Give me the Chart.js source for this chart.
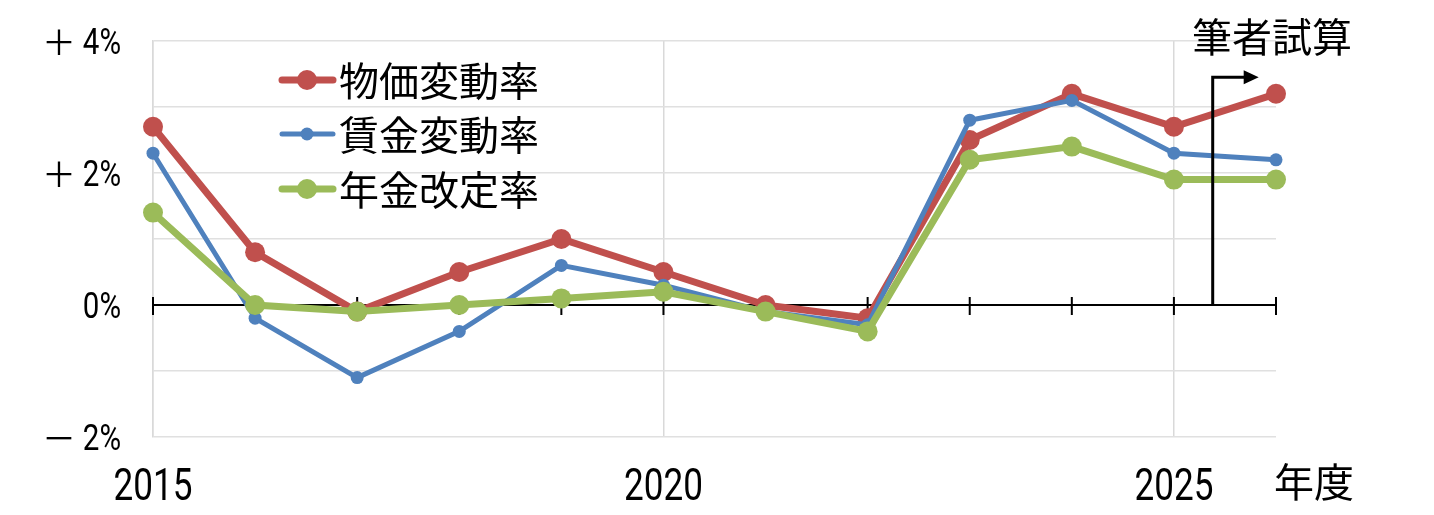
<!DOCTYPE html>
<html>
<head>
<meta charset="utf-8">
<script src="https://cdn.jsdelivr.net/npm/chart.js@4"></script>
<style>
  html, body { margin: 0; padding: 0; background: #fff; }
  #wrap { width: 1434px; height: 515px; position: relative; }
</style>
</head>
<body>
<div id="wrap"><canvas id="chart"></canvas></div>
<script>
// 年金改定率の推移

const years = ['2015', '2016', '2017', '2018', '2019', '2020', '2021', '2022', '2023', '2024', '2025', '2026'];
const shownYears = ['2015', '2020', '2025'];
const priceRate = [2.7, 0.8, -0.1, 0.5, 1.0, 0.5, 0.0, -0.2, 2.5, 3.2, 2.7, 3.2];
const wageRate = [2.3, -0.2, -1.1, -0.4, 0.6, 0.3, -0.1, -0.3, 2.8, 3.1, 2.3, 2.2];
const pensionRate = [1.4, 0.0, -0.1, 0.0, 0.1, 0.2, -0.1, -0.4, 2.2, 2.4, 1.9, 1.9];
const seriesNames = ['物価変動率', '賃金変動率', '年金改定率'];
const yTickValues = [4, 2, 0, -2];
const yTickSigns = ['＋', '＋', '', '－'];
const yTickNums = ['4%', '2%', '0%', '2%'];
const estimateFrom = 2025.38;  // 筆者試算の開始位置
const estimateLabel = '筆者試算';
const xUnit = '年度';

const RED = '#C0504D';
const BLUE = '#4F81BD';
const GREEN = '#9BBB59';
const NUM_FONT = "Roboto, 'Open Sans', sans-serif";
const JP_FONT = "'Noto Sans CJK JP', sans-serif";

// 細めの数字（横方向に縮めて描く）
function narrowText(ctx, text, x, y, size, sx, align) {
    ctx.save();
    ctx.font = size + 'px ' + NUM_FONT;
    ctx.textBaseline = 'alphabetic';
    const w = ctx.measureText(text).width * sx;
    let left = x;
    if (align === 'center') left = x - w / 2;
    if (align === 'right') left = x - w;
    ctx.translate(left, y);
    ctx.scale(sx, 1);
    ctx.textAlign = 'left';
    ctx.fillText(text, 0, 0);
    ctx.restore();
}

// 0%の軸線と目盛り
const zeroAxis = {
    id: 'zeroAxis',
    beforeDatasetsDraw(chart) {
        const { ctx, scales: { x, y } } = chart;
        const y0 = y.getPixelForValue(0);
        ctx.save();
        ctx.strokeStyle = '#000';
        ctx.lineWidth = 2;
        ctx.beginPath();
        ctx.moveTo(x.left, y0);
        ctx.lineTo(x.right, y0);
        years.forEach((yr, i) => {
            const px = x.getPixelForValue(i);
            ctx.moveTo(px, y0 - 8);
            ctx.lineTo(px, y0 + 10);
        });
        ctx.stroke();
        ctx.restore();
    }
};

// 軸ラベル・凡例・注記
const overlay = {
    id: 'overlay',
    afterDatasetsDraw(chart) {
        const { ctx, scales: { x, y } } = chart;
        ctx.save();
        ctx.fillStyle = '#000';

        // 縦軸ラベル
        yTickValues.forEach((v, i) => {
            const py = y.getPixelForValue(v);
            if (yTickSigns[i]) {
                ctx.font = '34px ' + JP_FONT;
                ctx.textAlign = 'center';
                ctx.textBaseline = 'middle';
                ctx.fillText(yTickSigns[i], 59, py + 1);
            }
            narrowText(ctx, yTickNums[i], 121, py + 13, 36, 0.82, 'right');
        });

        // 横軸ラベル
        years.forEach((yr, i) => {
            if (!shownYears.includes(yr)) return;
            narrowText(ctx, yr, x.getPixelForValue(i), 500, 45, 0.78, 'center');
        });

        // 筆者試算の矢印
        const xa = x.getPixelForValue(estimateFrom - 2015);
        const y0 = y.getPixelForValue(0);
        const yTop = y.getPixelForValue(3.45);
        ctx.strokeStyle = '#000';
        ctx.lineWidth = 3;
        ctx.beginPath();
        ctx.moveTo(xa, y0);
        ctx.lineTo(xa, yTop);
        ctx.lineTo(xa + 33, yTop);
        ctx.stroke();
        ctx.beginPath();
        ctx.moveTo(xa + 46, yTop);
        ctx.lineTo(xa + 31, yTop - 7);
        ctx.lineTo(xa + 31, yTop + 7);
        ctx.closePath();
        ctx.fill();

        ctx.font = '40px ' + JP_FONT;
        ctx.textAlign = 'center';
        ctx.textBaseline = 'middle';
        ctx.fillText(estimateLabel, 1272, 37);

        // 年度
        ctx.textAlign = 'left';
        ctx.fillText(xUnit, 1274, 482);

        // 凡例
        const rows = [
            { name: seriesNames[0], color: RED, lw: 7, r: 10, cy: 80 },
            { name: seriesNames[1], color: BLUE, lw: 5, r: 6.5, cy: 134 },
            { name: seriesNames[2], color: GREEN, lw: 7, r: 10, cy: 189 }
        ];
        rows.forEach(row => {
            ctx.strokeStyle = row.color;
            ctx.fillStyle = row.color;
            ctx.lineWidth = row.lw;
            ctx.lineCap = 'round';
            ctx.beginPath();
            ctx.moveTo(282, row.cy);
            ctx.lineTo(333, row.cy);
            ctx.stroke();
            ctx.beginPath();
            ctx.arc(307, row.cy, row.r, 0, Math.PI * 2);
            ctx.fill();
            ctx.fillStyle = '#000';
            ctx.font = '40px ' + JP_FONT;
            ctx.textAlign = 'left';
            ctx.fillText(row.name, 339, row.cy + 1);
        });
        ctx.restore();
    }
};

new Chart(document.getElementById('chart'), {
    type: 'line',
    data: {
        labels: years,
        datasets: [
            {
                label: seriesNames[0], data: priceRate, borderColor: RED, backgroundColor: RED,
                borderWidth: 7, pointRadius: 10, pointBorderWidth: 0, order: 3
            },
            {
                label: seriesNames[1], data: wageRate, borderColor: BLUE, backgroundColor: BLUE,
                borderWidth: 5, pointRadius: 6.5, pointBorderWidth: 0, order: 2
            },
            {
                label: seriesNames[2], data: pensionRate, borderColor: GREEN, backgroundColor: GREEN,
                borderWidth: 7, pointRadius: 10, pointBorderWidth: 0, order: 1
            }
        ]
    },
    options: {
        responsive: true,
        maintainAspectRatio: false,
        animation: false,
        clip: false,
        layout: { padding: { top: 41, right: 158, left: 0, bottom: 0 } },
        plugins: {
            legend: { display: false },
            tooltip: { enabled: false }
        },
        scales: {
            x: {
                offset: false,
                border: { display: false },
                grid: {
                    drawTicks: false,
                    lineWidth: 1.5,
                    color: c => shownYears.includes(years[c.index]) ? '#d9d9d9' : 'rgba(0,0,0,0)'
                },
                ticks: { display: false, autoSkip: false },
                afterFit: s => { s.height = 78; }
            },
            y: {
                min: -2,
                max: 4,
                border: { display: true, color: '#d9d9d9', width: 1.5 },
                grid: { drawTicks: false, color: '#e0e0e0', lineWidth: 1.5 },
                ticks: { display: false, stepSize: 1 },
                afterFit: s => { s.width = 153; }
            }
        }
    },
    plugins: [zeroAxis, overlay]
});
</script>
</body>
</html>
